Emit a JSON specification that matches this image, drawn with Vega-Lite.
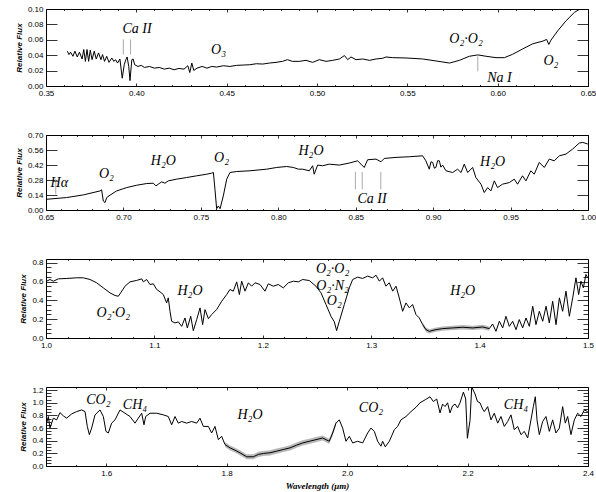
{
"$schema":"https://vega.github.io/schema/vega-lite/v6.json",
"background":"white",
"padding":{"left":14,"top":3,"right":6,"bottom":2},
"spacing":49,
"bounds":"flush",
"datasets":{
"p1":[{"w":0.3618,"f":0.0452},{"w":0.3627,"f":0.0408},{"w":0.3636,"f":0.0439},{"w":0.3649,"f":0.0386},{"w":0.366,"f":0.0452},{"w":0.3673,"f":0.0377},{"w":0.3685,"f":0.0439},{"w":0.37,"f":0.0351},{"w":0.3709,"f":0.0474},{"w":0.3718,"f":0.032},{"w":0.3727,"f":0.0474},{"w":0.3736,"f":0.032},{"w":0.3745,"f":0.0465},{"w":0.3755,"f":0.0342},{"w":0.3767,"f":0.0452},{"w":0.3778,"f":0.0351},{"w":0.3791,"f":0.043},{"w":0.3804,"f":0.0342},{"w":0.3813,"f":0.0408},{"w":0.3824,"f":0.032},{"w":0.3836,"f":0.0386},{"w":0.3849,"f":0.0307},{"w":0.3864,"f":0.0364},{"w":0.3876,"f":0.032},{"w":0.3885,"f":0.0342},{"w":0.3896,"f":0.0298},{"w":0.3909,"f":0.0351},{"w":0.3922,"f":0.0101},{"w":0.3933,"f":0.0276},{"w":0.3942,"f":0.0342},{"w":0.3949,"f":0.0377},{"w":0.3958,"f":0.0254},{"w":0.3965,"f":0.007},{"w":0.3975,"f":0.0342},{"w":0.3982,"f":0.0351},{"w":0.3991,"f":0.0276},{"w":0.4009,"f":0.0254},{"w":0.4027,"f":0.0268},{"w":0.4045,"f":0.0241},{"w":0.4073,"f":0.0254},{"w":0.41,"f":0.0232},{"w":0.4127,"f":0.0241},{"w":0.4155,"f":0.0219},{"w":0.4182,"f":0.0232},{"w":0.4209,"f":0.0211},{"w":0.4236,"f":0.0228},{"w":0.4264,"f":0.0219},{"w":0.4285,"f":0.0263},{"w":0.4296,"f":0.0175},{"w":0.4307,"f":0.0298},{"w":0.4318,"f":0.0202},{"w":0.4336,"f":0.0232},{"w":0.4364,"f":0.0254},{"w":0.4391,"f":0.0232},{"w":0.4418,"f":0.0254},{"w":0.4445,"f":0.0246},{"w":0.4482,"f":0.0263},{"w":0.4518,"f":0.0254},{"w":0.4555,"f":0.0268},{"w":0.4591,"f":0.0272},{"w":0.4627,"f":0.0276},{"w":0.4664,"f":0.0289},{"w":0.47,"f":0.0285},{"w":0.4736,"f":0.0298},{"w":0.4773,"f":0.0307},{"w":0.4809,"f":0.032},{"w":0.4836,"f":0.0342},{"w":0.4864,"f":0.032},{"w":0.4902,"f":0.032},{"w":0.4939,"f":0.0333},{"w":0.4976,"f":0.0307},{"w":0.5013,"f":0.0342},{"w":0.505,"f":0.032},{"w":0.5087,"f":0.0333},{"w":0.5124,"f":0.0351},{"w":0.5152,"f":0.0395},{"w":0.517,"f":0.0342},{"w":0.5188,"f":0.0377},{"w":0.5216,"f":0.0342},{"w":0.5253,"f":0.0351},{"w":0.529,"f":0.0333},{"w":0.5327,"f":0.0351},{"w":0.5364,"f":0.036},{"w":0.5382,"f":0.0377},{"w":0.5419,"f":0.0368},{"w":0.5493,"f":0.0364},{"w":0.5585,"f":0.0351},{"w":0.5659,"f":0.0325},{"w":0.5733,"f":0.0298},{"w":0.5788,"f":0.0333},{"w":0.5843,"f":0.0386},{"w":0.589,"f":0.0404},{"w":0.5936,"f":0.0386},{"w":0.5991,"f":0.0368},{"w":0.6037,"f":0.0368},{"w":0.6083,"f":0.0412},{"w":0.6139,"f":0.0482},{"w":0.6194,"f":0.0548},{"w":0.625,"f":0.0583},{"w":0.6271,"f":0.0605},{"w":0.6283,"f":0.0539},{"w":0.6295,"f":0.0596},{"w":0.6332,"f":0.0715},{"w":0.6378,"f":0.0846},{"w":0.6425,"f":0.0956},{"w":0.6462,"f":0.1009},{"w":0.6489,"f":0.1035}],
"p2":[{"w":0.6504,"f":0.1},{"w":0.6633,"f":0.116},{"w":0.6741,"f":0.141},{"w":0.6849,"f":0.178},{"w":0.6859,"f":0.188},{"w":0.687,"f":0.084},{"w":0.6881,"f":0.069},{"w":0.6892,"f":0.116},{"w":0.6913,"f":0.138},{"w":0.6956,"f":0.178},{"w":0.7021,"f":0.209},{"w":0.7085,"f":0.231},{"w":0.715,"f":0.247},{"w":0.7193,"f":0.25},{"w":0.721,"f":0.225},{"w":0.7225,"f":0.241},{"w":0.7247,"f":0.263},{"w":0.7268,"f":0.25},{"w":0.729,"f":0.272},{"w":0.7344,"f":0.288},{"w":0.7408,"f":0.303},{"w":0.7473,"f":0.319},{"w":0.7537,"f":0.334},{"w":0.757,"f":0.344},{"w":0.7581,"f":0.35},{"w":0.7591,"f":0.194},{"w":0.7602,"f":0.012},{"w":0.7613,"f":0.038},{"w":0.7624,"f":0.012},{"w":0.7645,"f":0.131},{"w":0.7667,"f":0.288},{"w":0.7688,"f":0.35},{"w":0.7731,"f":0.359},{"w":0.7817,"f":0.366},{"w":0.7925,"f":0.381},{"w":0.799,"f":0.397},{"w":0.8054,"f":0.406},{"w":0.8097,"f":0.397},{"w":0.813,"f":0.381},{"w":0.8157,"f":0.381},{"w":0.82,"f":0.366},{"w":0.8222,"f":0.413},{"w":0.8232,"f":0.334},{"w":0.8254,"f":0.419},{"w":0.8286,"f":0.413},{"w":0.8329,"f":0.428},{"w":0.8394,"f":0.419},{"w":0.8458,"f":0.438},{"w":0.8512,"f":0.459},{"w":0.8534,"f":0.428},{"w":0.8555,"f":0.397},{"w":0.8577,"f":0.469},{"w":0.8631,"f":0.475},{"w":0.8663,"f":0.45},{"w":0.8684,"f":0.481},{"w":0.876,"f":0.491},{"w":0.8846,"f":0.497},{"w":0.8932,"f":0.506},{"w":0.8953,"f":0.459},{"w":0.8975,"f":0.381},{"w":0.8986,"f":0.45},{"w":0.8997,"f":0.444},{"w":0.9008,"f":0.39},{"w":0.9018,"f":0.397},{"w":0.9029,"f":0.46},{"w":0.904,"f":0.459},{"w":0.905,"f":0.4},{"w":0.9061,"f":0.419},{"w":0.9083,"f":0.366},{"w":0.9126,"f":0.35},{"w":0.9158,"f":0.381},{"w":0.918,"f":0.35},{"w":0.9201,"f":0.428},{"w":0.9223,"f":0.35},{"w":0.9255,"f":0.397},{"w":0.9276,"f":0.303},{"w":0.9309,"f":0.241},{"w":0.933,"f":0.163},{"w":0.9352,"f":0.209},{"w":0.9373,"f":0.178},{"w":0.9395,"f":0.272},{"w":0.9416,"f":0.209},{"w":0.9448,"f":0.241},{"w":0.9492,"f":0.256},{"w":0.9524,"f":0.288},{"w":0.9545,"f":0.241},{"w":0.9577,"f":0.319},{"w":0.9599,"f":0.272},{"w":0.9631,"f":0.366},{"w":0.9653,"f":0.334},{"w":0.9685,"f":0.444},{"w":0.9718,"f":0.397},{"w":0.975,"f":0.475},{"w":0.9782,"f":0.459},{"w":0.9815,"f":0.506},{"w":0.9858,"f":0.522},{"w":0.9901,"f":0.569},{"w":0.9944,"f":0.625},{"w":0.9966,"f":0.631},{"w":0.9998,"f":0.616}],
"p3":[{"w":1.0006,"f":0.604},{"w":1.0037,"f":0.622},{"w":1.0068,"f":0.604},{"w":1.0114,"f":0.629},{"w":1.0191,"f":0.633},{"w":1.0283,"f":0.64},{"w":1.0344,"f":0.64},{"w":1.0406,"f":0.622},{"w":1.0467,"f":0.587},{"w":1.0529,"f":0.533},{"w":1.059,"f":0.48},{"w":1.0637,"f":0.452},{"w":1.0667,"f":0.444},{"w":1.0689,"f":0.48},{"w":1.0729,"f":0.551},{"w":1.0775,"f":0.597},{"w":1.0836,"f":0.612},{"w":1.0883,"f":0.629},{"w":1.0898,"f":0.597},{"w":1.0929,"f":0.622},{"w":1.0959,"f":0.569},{"w":1.099,"f":0.576},{"w":1.1021,"f":0.516},{"w":1.1052,"f":0.491},{"w":1.1082,"f":0.462},{"w":1.1113,"f":0.373},{"w":1.1128,"f":0.427},{"w":1.1144,"f":0.284},{"w":1.1159,"f":0.178},{"w":1.119,"f":0.16},{"w":1.1221,"f":0.171},{"w":1.1252,"f":0.124},{"w":1.1282,"f":0.213},{"w":1.1304,"f":0.107},{"w":1.1335,"f":0.231},{"w":1.1359,"f":0.078},{"w":1.139,"f":0.196},{"w":1.1421,"f":0.32},{"w":1.1445,"f":0.142},{"w":1.1467,"f":0.302},{"w":1.1498,"f":0.206},{"w":1.1528,"f":0.249},{"w":1.1574,"f":0.302},{"w":1.1621,"f":0.391},{"w":1.1667,"f":0.462},{"w":1.1697,"f":0.516},{"w":1.1728,"f":0.498},{"w":1.1759,"f":0.597},{"w":1.1784,"f":0.462},{"w":1.1805,"f":0.604},{"w":1.1836,"f":0.498},{"w":1.1867,"f":0.587},{"w":1.1897,"f":0.551},{"w":1.1928,"f":0.587},{"w":1.1974,"f":0.569},{"w":1.202,"f":0.498},{"w":1.2051,"f":0.576},{"w":1.2097,"f":0.551},{"w":1.2143,"f":0.569},{"w":1.2189,"f":0.533},{"w":1.2236,"f":0.587},{"w":1.2282,"f":0.604},{"w":1.2328,"f":0.597},{"w":1.2367,"f":0.622},{"w":1.2429,"f":0.611},{"w":1.249,"f":0.551},{"w":1.2537,"f":0.48},{"w":1.2583,"f":0.356},{"w":1.2629,"f":0.231},{"w":1.266,"f":0.171},{"w":1.2681,"f":0.078},{"w":1.2706,"f":0.178},{"w":1.2752,"f":0.356},{"w":1.2798,"f":0.533},{"w":1.2829,"f":0.622},{"w":1.2875,"f":0.647},{"w":1.2921,"f":0.633},{"w":1.2967,"f":0.658},{"w":1.3013,"f":0.64},{"w":1.3044,"f":0.668},{"w":1.3075,"f":0.604},{"w":1.3105,"f":0.64},{"w":1.3136,"f":0.551},{"w":1.3167,"f":0.587},{"w":1.3198,"f":0.498},{"w":1.3229,"f":0.551},{"w":1.3259,"f":0.427},{"w":1.329,"f":0.284},{"w":1.3321,"f":0.373},{"w":1.3352,"f":0.32},{"w":1.3382,"f":0.356},{"w":1.3413,"f":0.249},{"w":1.3444,"f":0.213},{"w":1.3475,"f":0.142,"lo":0.12,"hi":0.165},{"w":1.3505,"f":0.089,"lo":0.065,"hi":0.112},{"w":1.3536,"f":0.071,"lo":0.048,"hi":0.094},{"w":1.3598,"f":0.089,"lo":0.066,"hi":0.112},{"w":1.3659,"f":0.1,"lo":0.077,"hi":0.123},{"w":1.3751,"f":0.107,"lo":0.084,"hi":0.13},{"w":1.3844,"f":0.114,"lo":0.091,"hi":0.137},{"w":1.3936,"f":0.107,"lo":0.084,"hi":0.13},{"w":1.4028,"f":0.117,"lo":0.094,"hi":0.14},{"w":1.409,"f":0.1,"lo":0.077,"hi":0.123},{"w":1.412,"f":0.149},{"w":1.4151,"f":0.071},{"w":1.4182,"f":0.178},{"w":1.4213,"f":0.107},{"w":1.4243,"f":0.231},{"w":1.4274,"f":0.124},{"w":1.4305,"f":0.178},{"w":1.4336,"f":0.089},{"w":1.4366,"f":0.196},{"w":1.4397,"f":0.107},{"w":1.4428,"f":0.213},{"w":1.4459,"f":0.124},{"w":1.449,"f":0.338},{"w":1.452,"f":0.142},{"w":1.4551,"f":0.284},{"w":1.4582,"f":0.178},{"w":1.4613,"f":0.338},{"w":1.4643,"f":0.16},{"w":1.4674,"f":0.391},{"w":1.4705,"f":0.142},{"w":1.4736,"f":0.427},{"w":1.4766,"f":0.284},{"w":1.4797,"f":0.498},{"w":1.4828,"f":0.231},{"w":1.4859,"f":0.427},{"w":1.4889,"f":0.64},{"w":1.4914,"f":0.462},{"w":1.4935,"f":0.604},{"w":1.4957,"f":0.533},{"w":1.4981,"f":0.676},{"w":1.4997,"f":0.64}],
"p4":[{"w":1.5011,"f":0.678},{"w":1.5039,"f":0.783},{"w":1.5066,"f":0.6},{"w":1.5122,"f":0.757},{"w":1.5177,"f":0.73},{"w":1.5232,"f":0.845},{"w":1.5288,"f":0.793},{"w":1.5343,"f":0.757},{"w":1.5426,"f":0.824},{"w":1.5509,"f":0.861},{"w":1.5592,"f":0.887},{"w":1.5648,"f":0.861},{"w":1.5686,"f":0.626},{"w":1.572,"f":0.496},{"w":1.5758,"f":0.6},{"w":1.5814,"f":0.809},{"w":1.5897,"f":0.887},{"w":1.5952,"f":0.783},{"w":1.5996,"f":0.548},{"w":1.6035,"f":0.522},{"w":1.609,"f":0.678},{"w":1.6146,"f":0.73},{"w":1.6229,"f":0.887},{"w":1.6312,"f":0.835},{"w":1.6395,"f":0.783},{"w":1.6478,"f":0.678},{"w":1.6533,"f":0.757},{"w":1.6589,"f":0.835},{"w":1.6627,"f":0.652},{"w":1.6655,"f":0.783},{"w":1.6727,"f":0.835},{"w":1.6838,"f":0.835},{"w":1.6948,"f":0.809},{"w":1.7031,"f":0.783},{"w":1.7087,"f":0.652},{"w":1.7142,"f":0.783},{"w":1.7197,"f":0.678},{"w":1.7253,"f":0.704},{"w":1.7336,"f":0.678},{"w":1.7419,"f":0.704},{"w":1.7502,"f":0.678},{"w":1.7557,"f":0.757},{"w":1.7613,"f":0.626},{"w":1.7696,"f":0.626},{"w":1.7751,"f":0.522},{"w":1.7806,"f":0.626},{"w":1.7862,"f":0.417},{"w":1.7917,"f":0.47},{"w":1.7972,"f":0.339,"lo":0.3,"hi":0.378},{"w":1.8055,"f":0.287,"lo":0.25,"hi":0.325},{"w":1.8138,"f":0.25,"lo":0.212,"hi":0.288},{"w":1.8221,"f":0.209,"lo":0.17,"hi":0.248},{"w":1.8332,"f":0.146,"lo":0.105,"hi":0.187},{"w":1.8443,"f":0.146,"lo":0.105,"hi":0.187},{"w":1.8526,"f":0.183,"lo":0.142,"hi":0.224},{"w":1.8609,"f":0.198,"lo":0.157,"hi":0.239},{"w":1.8719,"f":0.209,"lo":0.168,"hi":0.25},{"w":1.883,"f":0.235,"lo":0.194,"hi":0.276},{"w":1.8941,"f":0.261,"lo":0.22,"hi":0.302},{"w":1.9052,"f":0.287,"lo":0.246,"hi":0.328},{"w":1.9162,"f":0.33,"lo":0.289,"hi":0.371},{"w":1.9262,"f":0.365,"lo":0.324,"hi":0.406},{"w":1.9372,"f":0.391,"lo":0.35,"hi":0.432},{"w":1.9483,"f":0.417,"lo":0.376,"hi":0.458},{"w":1.9594,"f":0.443,"lo":0.402,"hi":0.484},{"w":1.9703,"f":0.391,"lo":0.35,"hi":0.432},{"w":1.976,"f":0.522,"lo":0.48,"hi":0.564},{"w":1.9815,"f":0.678,"lo":0.636,"hi":0.72},{"w":1.987,"f":0.73},{"w":1.9926,"f":0.6},{"w":1.9981,"f":0.391},{"w":2.0037,"f":0.47},{"w":2.0092,"f":0.365},{"w":2.0175,"f":0.391},{"w":2.0258,"f":0.365},{"w":2.0341,"f":0.522},{"w":2.0396,"f":0.6},{"w":2.0452,"f":0.548},{"w":2.0507,"f":0.391},{"w":2.0562,"f":0.313},{"w":2.059,"f":0.391},{"w":2.0634,"f":0.303},{"w":2.0701,"f":0.391},{"w":2.0784,"f":0.574},{"w":2.0839,"f":0.626},{"w":2.0894,"f":0.73},{"w":2.0978,"f":0.783},{"w":2.1061,"f":0.861},{"w":2.1144,"f":0.93},{"w":2.1211,"f":1.0},{"w":2.13,"f":1.05},{"w":2.1377,"f":1.095},{"w":2.1432,"f":1.02},{"w":2.1488,"f":1.06},{"w":2.1543,"f":0.84},{"w":2.1585,"f":0.98},{"w":2.1626,"f":0.94},{"w":2.1668,"f":1.0},{"w":2.1709,"f":0.84},{"w":2.175,"f":0.95},{"w":2.1792,"f":0.98},{"w":2.1835,"f":0.92},{"w":2.1875,"f":1.0},{"w":2.1931,"f":1.17},{"w":2.1969,"f":1.06},{"w":2.1997,"f":0.44},{"w":2.2041,"f":0.72},{"w":2.2069,"f":1.25},{"w":2.2124,"f":1.14},{"w":2.2165,"f":1.02},{"w":2.2207,"f":1.0},{"w":2.225,"f":0.9},{"w":2.2278,"f":0.861},{"w":2.2334,"f":0.939},{"w":2.2389,"f":0.73},{"w":2.2444,"f":0.835},{"w":2.25,"f":0.678},{"w":2.2555,"f":0.783},{"w":2.261,"f":0.626},{"w":2.2666,"f":0.704},{"w":2.2721,"f":0.809},{"w":2.2776,"f":0.574},{"w":2.2832,"f":0.626},{"w":2.2887,"f":0.496},{"w":2.2942,"f":0.548},{"w":2.2998,"f":0.443},{"w":2.3053,"f":0.73},{"w":2.3092,"f":0.939},{"w":2.3125,"f":1.096},{"w":2.3153,"f":0.73},{"w":2.3192,"f":0.496},{"w":2.3247,"f":0.704},{"w":2.3302,"f":0.783},{"w":2.3358,"f":0.548},{"w":2.3413,"f":0.73},{"w":2.3468,"f":0.522},{"w":2.3524,"f":0.6},{"w":2.3579,"f":0.939},{"w":2.3623,"f":0.678},{"w":2.3662,"f":0.783},{"w":2.3717,"f":0.496},{"w":2.3773,"f":0.73},{"w":2.3828,"f":0.835},{"w":2.3883,"f":0.783},{"w":2.3939,"f":0.887},{"w":2.3994,"f":0.861}],
"a1":[{"w":0.4004,"f":0.0746,"t":"Ca  II"},{"w":0.4455,"f":0.047,"t":"O₃"},{"w":0.5825,"f":0.0605,"t":"O₂·O₂"},{"w":0.601,"f":0.011,"t":"Na  I"},{"w":0.6295,"f":0.033,"t":"O₂"}],
"a2":[{"w":0.6586,"f":0.256,"t":"Hα"},{"w":0.689,"f":0.334,"t":"O₂"},{"w":0.7258,"f":0.46,"t":"H₂O"},{"w":0.7634,"f":0.49,"t":"O₂"},{"w":0.8211,"f":0.553,"t":"H₂O"},{"w":0.8605,"f":0.106,"t":"Ca  II"},{"w":0.9384,"f":0.444,"t":"H₂O"}],
"a3":[{"w":1.0621,"f":0.267,"t":"O₂·O₂"},{"w":1.1328,"f":0.498,"t":"H₂O"},{"w":1.2644,"f":0.729,"t":"O₂·O₂"},{"w":1.2644,"f":0.551,"t":"O₂·N₂"},{"w":1.266,"f":0.391,"t":"O₂"},{"w":1.3844,"f":0.498,"t":"H₂O"}],
"a4":[{"w":1.5869,"f":1.043,"t":"CO₂"},{"w":1.6478,"f":0.965,"t":"CH₄"},{"w":1.8387,"f":0.809,"t":"H₂O"},{"w":2.0396,"f":0.913,"t":"CO₂"},{"w":2.2804,"f":0.965,"t":"CH₄"}],
"m1":[{"w":0.3928,"f":0.0408,"f2":0.0605},{"w":0.3968,"f":0.0408,"f2":0.0605},{"w":0.589,"f":0.019,"f2":0.0386}],
"m2":[{"w":0.6563,"f":0.147,"f2":0.2875},{"w":0.8498,"f":0.194,"f2":0.356},{"w":0.8542,"f":0.194,"f2":0.356},{"w":0.8662,"f":0.194,"f2":0.356}]
},
"vconcat":[
{"width":542,"height":77,
 "layer":[
  {"data":{"name":"p1"},"mark":{"type":"line","color":"black","strokeWidth":1,"clip":true},
   "encoding":{
    "x":{"field":"w","type":"quantitative","scale":{"domain":[0.35,0.65],"nice":false,"zero":false},
      "axis":{"orient":"bottom","title":null,"values":[0.35,0.36,0.37,0.38,0.39,0.4,0.41,0.42,0.43,0.44,0.45,0.46,0.47,0.48,0.49,0.5,0.51,0.52,0.53,0.54,0.55,0.56,0.57,0.58,0.59,0.6,0.61,0.62,0.63,0.64,0.65],
        "labelExpr":"abs(datum.value*20-round(datum.value*20))<0.01 ? format(datum.value,'.2f') : ''",
        "tickSize":{"condition":{"test":"abs(datum.value*20-round(datum.value*20))<0.01","value":-3},"value":-1.5},"labelPadding":6}},
    "y":{"field":"f","type":"quantitative","scale":{"domain":[0,0.1],"nice":false,"zero":false},
      "axis":{"orient":"left","title":"Relative Flux","values":[0,0.02,0.04,0.06,0.08,0.1],"format":".2f","tickSize":-11,"labelPadding":14,"titlePadding":4}}}},
  {"data":{"name":"p1"},"mark":{"type":"point","opacity":0},
   "encoding":{
    "x":{"field":"w","type":"quantitative","axis":{"orient":"top","title":null,"labels":false,"values":[0.35,0.36,0.37,0.38,0.39,0.4,0.41,0.42,0.43,0.44,0.45,0.46,0.47,0.48,0.49,0.5,0.51,0.52,0.53,0.54,0.55,0.56,0.57,0.58,0.59,0.6,0.61,0.62,0.63,0.64,0.65],
        "tickSize":{"condition":{"test":"abs(datum.value*20-round(datum.value*20))<0.01","value":-3},"value":-1.5}}},
    "y":{"field":"f","type":"quantitative","axis":{"orient":"right","title":null,"labels":false,"values":[0,0.02,0.04,0.06,0.08,0.1],"tickSize":-11}}}},
  {"data":{"name":"m1"},"mark":{"type":"rule","color":"#aaaaaa","strokeWidth":1},
   "encoding":{"x":{"field":"w","type":"quantitative","axis":null},"y":{"field":"f","type":"quantitative","axis":null},"y2":{"field":"f2"}}},
  {"data":{"name":"a1"},"mark":{"type":"text","font":"Liberation Serif","fontStyle":"italic","fontSize":14,"color":"black","align":"center","baseline":"middle"},
   "encoding":{"x":{"field":"w","type":"quantitative","axis":null},"y":{"field":"f","type":"quantitative","axis":null},"text":{"field":"t"}}}
 ],
 "resolve":{"axis":{"x":"independent","y":"independent"}}
},
{"width":542,"height":75,
 "layer":[
  {"data":{"name":"p2"},"mark":{"type":"line","color":"black","strokeWidth":1,"clip":true},
   "encoding":{
    "x":{"field":"w","type":"quantitative","scale":{"domain":[0.65,1.0],"nice":false,"zero":false},
      "axis":{"orient":"bottom","title":null,"values":[0.65,0.66,0.67,0.68,0.69,0.7,0.71,0.72,0.73,0.74,0.75,0.76,0.77,0.78,0.79,0.8,0.81,0.82,0.83,0.84,0.85,0.86,0.87,0.88,0.89,0.9,0.91,0.92,0.93,0.94,0.95,0.96,0.97,0.98,0.99,1.0],
        "labelExpr":"abs(datum.value*20-round(datum.value*20))<0.01 ? format(datum.value,'.2f') : ''",
        "tickSize":{"condition":{"test":"abs(datum.value*20-round(datum.value*20))<0.01","value":-3},"value":-1.5},"labelPadding":6}},
    "y":{"field":"f","type":"quantitative","scale":{"domain":[0,0.7],"nice":false,"zero":false},
      "axis":{"orient":"left","title":"Relative Flux","values":[0,0.14,0.28,0.42,0.56,0.7],"format":".2f","tickSize":-11,"labelPadding":14,"titlePadding":4}}}},
  {"data":{"name":"p2"},"mark":{"type":"point","opacity":0},
   "encoding":{
    "x":{"field":"w","type":"quantitative","axis":{"orient":"top","title":null,"labels":false,"values":[0.65,0.66,0.67,0.68,0.69,0.7,0.71,0.72,0.73,0.74,0.75,0.76,0.77,0.78,0.79,0.8,0.81,0.82,0.83,0.84,0.85,0.86,0.87,0.88,0.89,0.9,0.91,0.92,0.93,0.94,0.95,0.96,0.97,0.98,0.99,1.0],
        "tickSize":{"condition":{"test":"abs(datum.value*20-round(datum.value*20))<0.01","value":-3},"value":-1.5}}},
    "y":{"field":"f","type":"quantitative","axis":{"orient":"right","title":null,"labels":false,"values":[0,0.14,0.28,0.42,0.56,0.7],"tickSize":-11}}}},
  {"data":{"name":"m2"},"mark":{"type":"rule","color":"#aaaaaa","strokeWidth":1},
   "encoding":{"x":{"field":"w","type":"quantitative","axis":null},"y":{"field":"f","type":"quantitative","axis":null},"y2":{"field":"f2"}}},
  {"data":{"name":"a2"},"mark":{"type":"text","font":"Liberation Serif","fontStyle":"italic","fontSize":14,"color":"black","align":"center","baseline":"middle"},
   "encoding":{"x":{"field":"w","type":"quantitative","axis":null},"y":{"field":"f","type":"quantitative","axis":null},"text":{"field":"t"}}}
 ],
 "resolve":{"axis":{"x":"independent","y":"independent"}}
},
{"width":542,"height":79,
 "layer":[
  {"data":{"name":"p3"},"mark":{"type":"area","color":"#9a9a9a","opacity":0.7,"clip":true},
   "encoding":{"x":{"field":"w","type":"quantitative","axis":null},"y":{"field":"lo","type":"quantitative","axis":null},"y2":{"field":"hi"}}},
  {"data":{"name":"p3"},"mark":{"type":"line","color":"black","strokeWidth":1,"clip":true},
   "encoding":{
    "x":{"field":"w","type":"quantitative","scale":{"domain":[1.0,1.5],"nice":false,"zero":false},
      "axis":{"orient":"bottom","title":null,"values":[1.0,1.02,1.04,1.06,1.08,1.1,1.12,1.14,1.16,1.18,1.2,1.22,1.24,1.26,1.28,1.3,1.32,1.34,1.36,1.38,1.4,1.42,1.44,1.46,1.48,1.5],
        "labelExpr":"abs(datum.value*10-round(datum.value*10))<0.01 ? format(datum.value,'.1f') : ''",
        "tickSize":{"condition":{"test":"abs(datum.value*10-round(datum.value*10))<0.01","value":-3},"value":-1.5},"labelPadding":6}},
    "y":{"field":"f","type":"quantitative","scale":{"domain":[0,0.84],"nice":false,"zero":false},
      "axis":{"orient":"left","title":"Relative Flux","values":[0,0.05,0.1,0.15,0.2,0.25,0.3,0.35,0.4,0.45,0.5,0.55,0.6,0.65,0.7,0.75,0.8],
        "labelExpr":"abs(datum.value*5-round(datum.value*5))<0.01 ? format(datum.value,'.1f') : ''",
        "tickSize":{"condition":{"test":"abs(datum.value*5-round(datum.value*5))<0.01","value":-11},"value":-5},"labelPadding":14,"titlePadding":4}}}},
  {"data":{"name":"p3"},"mark":{"type":"point","opacity":0},
   "encoding":{
    "x":{"field":"w","type":"quantitative","axis":{"orient":"top","title":null,"labels":false,"values":[1.0,1.02,1.04,1.06,1.08,1.1,1.12,1.14,1.16,1.18,1.2,1.22,1.24,1.26,1.28,1.3,1.32,1.34,1.36,1.38,1.4,1.42,1.44,1.46,1.48,1.5],
        "tickSize":{"condition":{"test":"abs(datum.value*10-round(datum.value*10))<0.01","value":-3},"value":-1.5}}},
    "y":{"field":"f","type":"quantitative","axis":{"orient":"right","title":null,"labels":false,"values":[0,0.05,0.1,0.15,0.2,0.25,0.3,0.35,0.4,0.45,0.5,0.55,0.6,0.65,0.7,0.75,0.8],
        "tickSize":{"condition":{"test":"abs(datum.value*5-round(datum.value*5))<0.01","value":-11},"value":-5}}}}},
  {"data":{"name":"a3"},"mark":{"type":"text","font":"Liberation Serif","fontStyle":"italic","fontSize":14,"color":"black","align":"center","baseline":"middle"},
   "encoding":{"x":{"field":"w","type":"quantitative","axis":null},"y":{"field":"f","type":"quantitative","axis":null},"text":{"field":"t"}}}
 ],
 "resolve":{"axis":{"x":"independent","y":"independent"}}
},
{"width":542,"height":79,
 "layer":[
  {"data":{"name":"p4"},"mark":{"type":"area","color":"#9a9a9a","opacity":0.7,"clip":true},
   "encoding":{"x":{"field":"w","type":"quantitative","axis":null},"y":{"field":"lo","type":"quantitative","axis":null},"y2":{"field":"hi"}}},
  {"data":{"name":"p4"},"mark":{"type":"line","color":"black","strokeWidth":1,"clip":true},
   "encoding":{
    "x":{"field":"w","type":"quantitative","scale":{"domain":[1.5,2.4],"nice":false,"zero":false},
      "axis":{"orient":"bottom","title":"Wavelength (μm)","titleFont":"Liberation Serif","titleFontSize":9,"titlePadding":3,"values":[1.5,1.55,1.6,1.65,1.7,1.75,1.8,1.85,1.9,1.95,2.0,2.05,2.1,2.15,2.2,2.25,2.3,2.35,2.4],
        "labelExpr":"abs(datum.value*5-round(datum.value*5))<0.01 ? format(datum.value,'.1f') : ''",
        "tickSize":{"condition":{"test":"abs(datum.value*5-round(datum.value*5))<0.01","value":-3},"value":-1.5},"labelPadding":6}},
    "y":{"field":"f","type":"quantitative","scale":{"domain":[0,1.25],"nice":false,"zero":false},
      "axis":{"orient":"left","title":"Relative Flux","values":[0,0.05,0.1,0.15,0.2,0.25,0.3,0.35,0.4,0.45,0.5,0.55,0.6,0.65,0.7,0.75,0.8,0.85,0.9,0.95,1.0,1.05,1.1,1.15,1.2],
        "labelExpr":"abs(datum.value*5-round(datum.value*5))<0.01 ? format(datum.value,'.1f') : ''",
        "tickSize":{"condition":{"test":"abs(datum.value*5-round(datum.value*5))<0.01","value":-11},"value":-5},"labelPadding":14,"titlePadding":4}}}},
  {"data":{"name":"p4"},"mark":{"type":"point","opacity":0},
   "encoding":{
    "x":{"field":"w","type":"quantitative","axis":{"orient":"top","title":null,"labels":false,"values":[1.5,1.55,1.6,1.65,1.7,1.75,1.8,1.85,1.9,1.95,2.0,2.05,2.1,2.15,2.2,2.25,2.3,2.35,2.4],
        "tickSize":{"condition":{"test":"abs(datum.value*5-round(datum.value*5))<0.01","value":-3},"value":-1.5}}},
    "y":{"field":"f","type":"quantitative","axis":{"orient":"right","title":null,"labels":false,"values":[0,0.05,0.1,0.15,0.2,0.25,0.3,0.35,0.4,0.45,0.5,0.55,0.6,0.65,0.7,0.75,0.8,0.85,0.9,0.95,1.0,1.05,1.1,1.15,1.2],
        "tickSize":{"condition":{"test":"abs(datum.value*5-round(datum.value*5))<0.01","value":-11},"value":-5}}}}},
  {"data":{"name":"a4"},"mark":{"type":"text","font":"Liberation Serif","fontStyle":"italic","fontSize":14,"color":"black","align":"center","baseline":"middle"},
   "encoding":{"x":{"field":"w","type":"quantitative","axis":null},"y":{"field":"f","type":"quantitative","axis":null},"text":{"field":"t"}}}
 ],
 "resolve":{"axis":{"x":"independent","y":"independent"}}
}
],
"config":{
 "view":{"stroke":"black","strokeWidth":1},
 "axis":{"domain":false,"grid":false,"labelFont":"Liberation Sans","labelFontSize":8,"labelColor":"black","tickColor":"black","tickWidth":0.8,"labelOverlap":false,"labelFlush":false,"titleFont":"Liberation Sans","titleFontSize":8,"titleFontStyle":"italic","titleFontWeight":"bold","titleColor":"black"}
}
}
